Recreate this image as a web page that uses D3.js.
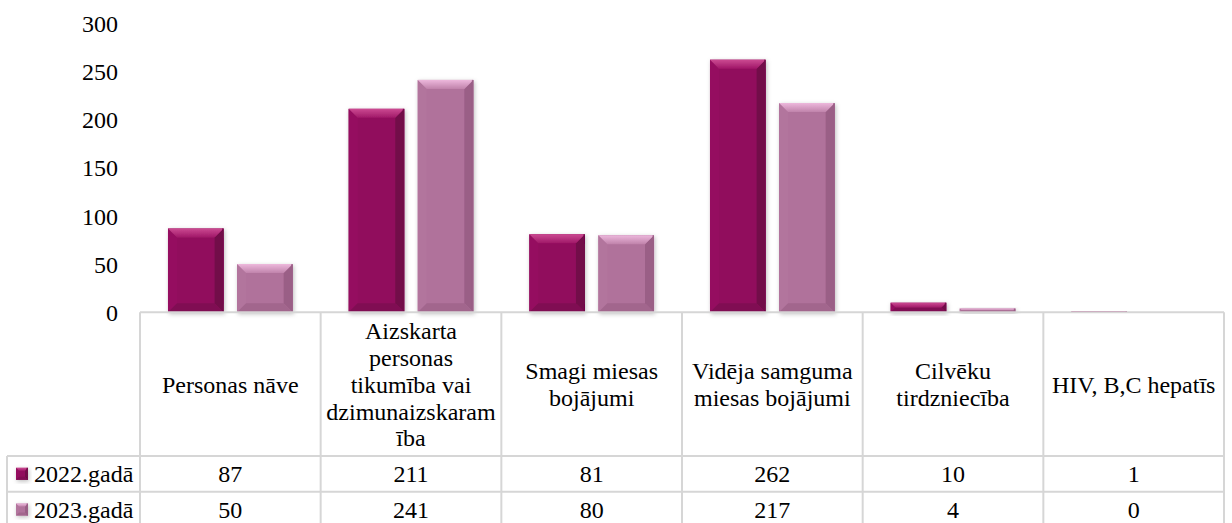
<!DOCTYPE html>
<html>
<head>
<meta charset="utf-8">
<script src="https://cdn.jsdelivr.net/npm/d3@7"></script>
<style>
  html, body { margin: 0; padding: 0; background: #fff; }
  svg { display: block; }
  text { font-family: "Liberation Serif", "Times New Roman", serif; fill: #000; }
</style>
</head>
<body>
<svg id="chart" width="1232" height="523"></svg>
<script>
// ---- data ----
const categories = [
  "Personas nāve",
  "Aizskarta personas tikumība vai dzimunaizskaramība",
  "Smagi miesas bojājumi",
  "Vidēja samguma miesas bojājumi",
  "Cilvēku tirdzniecība",
  "HIV, B,C hepatīs"
];
const categoryLines = [
  ["Personas nāve"],
  ["Aizskarta", "personas", "tikumība vai", "dzimunaizskaram", "ība"],
  ["Smagi miesas", "bojājumi"],
  ["Vidēja samguma", "miesas bojājumi"],
  ["Cilvēku", "tirdzniecība"],
  ["HIV, B,C hepatīs"]
];
const seriesNames = ["2022.gadā", "2023.gadā"];
const values2022 = [87, 211, 81, 262, 10, 1];
const values2023 = [50, 241, 80, 217, 4, 0];
const yTicks = [0, 50, 100, 150, 200, 250, 300];

const seriesValues = [values2022, values2023];
const palette = [
  { main: "#910F5D", top: "#CC4A92", topEnd: "#A01868", left: "#950F60", right: "#720848", bottom: "#800B52" },
  { main: "#B0729B", top: "#EDB8DC", topEnd: "#C083AB", left: "#B2749D", right: "#9A5E86", bottom: "#A2668D" }
];

// ---- layout ----
const svg = d3.select("#chart");
const tableLeft = 140, tableRight = 1224, legendLeft = 7;
const y0 = 312.3, yTop = 23;
const headerBottom = 456, rowH = 35.7;
const fontSize = 24, lineH = 26.7;

const x0 = d3.scaleBand().domain(categories).range([tableLeft, tableRight]).paddingInner(0).paddingOuter(0);
const x1 = d3.scaleBand().domain(seriesNames).range([0, x0.bandwidth()]).paddingInner(0.195).paddingOuter(0.405);
const y = d3.scaleLinear().domain([0, 300]).range([y0, yTop]);

// defs: gradients and shadow
const defs = svg.append("defs");
const f = defs.append("filter").attr("id", "shadow").attr("x", "-30%").attr("y", "-30%").attr("width", "160%").attr("height", "160%");
f.append("feDropShadow").attr("dx", 1).attr("dy", 1.5).attr("stdDeviation", 2).attr("flood-color", "#000").attr("flood-opacity", 0.25);
palette.forEach((p, i) => {
  const g = defs.append("linearGradient").attr("id", "topg" + i).attr("x1", 0).attr("y1", 0).attr("x2", 0).attr("y2", 1);
  g.append("stop").attr("offset", "0%").attr("stop-color", p.top);
  g.append("stop").attr("offset", "100%").attr("stop-color", p.topEnd);
});

function bevelBar(sel, x, yy, w, h, p, i, bMax) {
  if (h <= 0) return;
  const b = Math.min(bMax, h / 2, w / 2);
  const g = sel.append("g").attr("filter", "url(#shadow)");
  g.append("rect").attr("x", x).attr("y", yy).attr("width", w).attr("height", h).attr("fill", p.main);
  const poly = pts => g.append("polygon").attr("points", pts.map(d => d.join(",")).join(" "));
  poly([[x, yy], [x + b, yy + b], [x + b, yy + h - b], [x, yy + h]]).attr("fill", p.left);
  poly([[x + w, yy], [x + w - b, yy + b], [x + w - b, yy + h - b], [x + w, yy + h]]).attr("fill", p.right);
  poly([[x, yy + h], [x + b, yy + h - b], [x + w - b, yy + h - b], [x + w, yy + h]]).attr("fill", p.bottom);
  poly([[x, yy], [x + w, yy], [x + w - b, yy + b], [x + b, yy + b]]).attr("fill", `url(#topg${i})`);
  g.append("rect").attr("x", x + w - 1.5).attr("y", yy).attr("width", 1.5).attr("height", h).attr("fill", p.right).attr("opacity", 0.8);
}

// y axis labels (no line)
const yAxis = d3.axisLeft(y).tickValues(yTicks).tickSize(0).tickPadding(0);
const yg = svg.append("g").attr("transform", "translate(118,0)").call(yAxis);
yg.select(".domain").remove();
yg.selectAll("text").attr("font-size", fontSize).attr("font-family", "Liberation Serif").attr("fill", "#000").attr("dy", "0.34em");

// bars
const barsG = svg.append("g");
categories.forEach((c, ci) => {
  seriesNames.forEach((s, si) => {
    const v = seriesValues[si][ci];
    const bx = x0(c) + x1(s);
    const by = y(v);
    bevelBar(barsG, bx, by, x1.bandwidth(), y0 - by, palette[si], si, 9);
  });
});

// data table
const grid = "#D6D6D6";
const tg = svg.append("g");
const tableBottom = headerBottom + rowH * 2 + 2;
tg.append("line").attr("x1", tableLeft).attr("x2", tableRight).attr("y1", y0).attr("y2", y0).attr("stroke", grid).attr("stroke-width", 2);
[headerBottom, headerBottom + rowH].forEach(yy => {
  tg.append("line").attr("x1", legendLeft).attr("x2", tableRight).attr("y1", yy).attr("y2", yy).attr("stroke", grid).attr("stroke-width", 2);
});
const colEdges = categories.map(c => x0(c)).concat([tableRight]);
colEdges.forEach(xx => {
  tg.append("line").attr("x1", xx).attr("x2", xx).attr("y1", y0).attr("y2", tableBottom).attr("stroke", grid).attr("stroke-width", 2);
});
tg.append("line").attr("x1", legendLeft).attr("x2", legendLeft).attr("y1", headerBottom).attr("y2", tableBottom).attr("stroke", grid).attr("stroke-width", 2);

// header labels
const headerMid = (y0 + headerBottom) / 2 + 0.5;
categories.forEach((c, ci) => {
  const lines = categoryLines[ci];
  const cx = x0(c) + x0.bandwidth() / 2;
  const startY = headerMid - (lines.length - 1) * lineH / 2;
  const t = tg.append("text").attr("text-anchor", "middle").attr("font-size", fontSize);
  lines.forEach((ln, li) => {
    t.append("tspan").attr("x", cx).attr("y", startY + li * lineH).attr("dy", "0.34em").text(ln);
  });
});

// rows
seriesNames.forEach((s, si) => {
  const rowMid = headerBottom + rowH * si + rowH / 2;
  bevelBar(tg, 16, rowMid - 6, 12, 12, palette[si], si, 3);
  tg.append("text").attr("x", 34).attr("y", rowMid).attr("dy", "0.34em").attr("font-size", fontSize).text(s);
  categories.forEach((c, ci) => {
    tg.append("text").attr("x", x0(c) + x0.bandwidth() / 2).attr("y", rowMid).attr("dy", "0.34em")
      .attr("text-anchor", "middle").attr("font-size", fontSize).text(seriesValues[si][ci]);
  });
});
</script>
</body>
</html>
